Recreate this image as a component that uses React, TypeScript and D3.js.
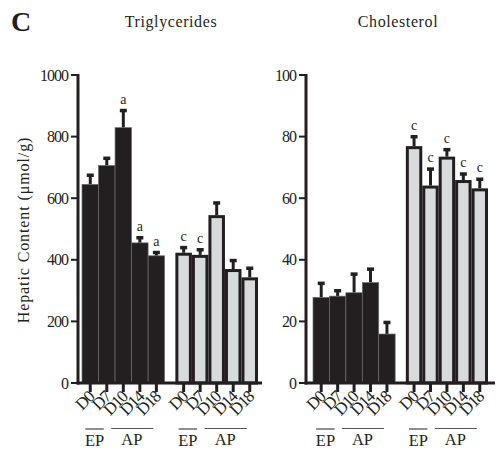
import React from "react";
import * as d3 from "d3";

const days = ["D0", "D7", "D10", "D14", "D18"];
const groups = ["black", "grey"];

// Triglycerides (µmol/g)
const tgBlack = [645, 706, 829, 455, 413];
const tgBlackErr = [32, 26, 58, 19, 13];
const tgGrey = [423, 416, 545, 370, 343];
const tgGreyErr = [19, 19, 42, 30, 32];
const tgBlackSig = ["", "", "a", "a", "a"];
const tgGreySig = ["c", "c", "", "", ""];
const tgTicks = [0, 200, 400, 600, 800, 1000];

// Cholesterol (µmol/g)
const chBlack = [27.8, 28.2, 29.3, 32.6, 15.9];
const chBlackErr = [4.8, 2, 6.3, 4.6, 4];
const chGrey = [76.9, 64.1, 73.5, 65.9, 63.2];
const chGreyErr = [3.3, 5.6, 2.5, 2.2, 3.2];
const chBlackSig = ["", "", "", "", ""];
const chGreySig = ["c", "c", "c", "c", "c"];
const chTicks = [0, 20, 40, 60, 80, 100];

const INK = "#231f20";
const GREY = "#d9dadb";
const FONT = "'Liberation Serif', 'Times New Roman', serif";

type PanelProps = {
  title: string;
  titleX: number;
  axisX: number;
  axisEnd: number;
  barRange: [number, number];
  max: number;
  ticks: number[];
  series: { vals: number[]; errs: number[]; sig: string[] }[];
};

function Panel({ title, titleX, axisX, axisEnd, barRange, max, ticks, series }: PanelProps) {
  const y0 = 383, yTop = 75;
  const y = d3.scaleLinear().domain([0, max]).range([y0, yTop]);
  const gx = d3.scaleBand().domain(groups).range(barRange).paddingInner(0.115);
  const bx = d3.scaleBand().domain(days).range([0, gx.bandwidth()]);
  const bw = bx.bandwidth();

  return (
    <g>
      <text x={titleX} y={27} textAnchor="middle" fontSize={16} fontFamily={FONT} fill={INK} letterSpacing={0.6}>{title}</text>
      {groups.map((gname, gi) => {
        const s = series[gi];
        const ox = gx(gname)!;
        return (
          <g key={gname}>
            {days.map((d, i) => {
              const x = ox + bx(d)!;
              const cx = x + bw / 2;
              const top = y(s.vals[i]);
              const et = y(s.vals[i] + s.errs[i]);
              return (
                <g key={d}>
                  <line x1={cx} x2={cx} y1={top} y2={et} stroke={INK} strokeWidth={3} />
                  <rect x={cx - 3.5} y={et - 1} width={7} height={3.5} fill={INK} />
                  {gi === 0 ? (
                    <rect x={x} y={top} width={bw} height={y0 - top} fill={INK} stroke="#6d6d6d" strokeWidth={0.7} />
                  ) : (
                    <rect x={x + 1.5} y={top + 1.5} width={bw - 3} height={y0 - top - 1.5} fill={GREY} stroke={INK} strokeWidth={3} />
                  )}
                  {s.sig[i] && (
                    <text x={cx} y={et - 6} textAnchor="middle" fontSize={14} fontFamily={FONT} fill={INK}>{s.sig[i]}</text>
                  )}
                  <line x1={cx} x2={cx} y1={y0} y2={y0 + 9} stroke={INK} strokeWidth={3} />
                  <text transform={`translate(${cx + 5},${y0 + 15}) rotate(-45)`} textAnchor="end" fontSize={17} fontFamily={FONT} fill={INK} letterSpacing={-1.2}>{d}</text>
                </g>
              );
            })}
            {(() => {
              const c = (i: number) => ox + bx(days[i])! + bw / 2;
              const ly = 429;
              return (
                <g fontFamily={FONT} fontSize={16.5} fill={INK} textAnchor="middle">
                  <line x1={c(0) - 5} x2={c(1) - 3} y1={ly} y2={ly} stroke={INK} strokeWidth={1} />
                  <line x1={c(2) - 12} x2={c(4) - 3} y1={ly - 0.5} y2={ly - 0.5} stroke="#555" strokeWidth={1} />
                  <text x={(c(0) + c(1)) / 2 - 4} y={446}>EP</text>
                  <text x={(c(2) + c(4)) / 2 - 8} y={445}>AP</text>
                </g>
              );
            })()}
          </g>
        );
      })}
      {ticks.map((t) => (
        <g key={t}>
          <line x1={axisX - 7} x2={axisX} y1={y(t)} y2={y(t)} stroke={INK} strokeWidth={2} />
          <text x={axisX - 10} y={y(t) + 5.5} textAnchor="end" fontSize={16} fontFamily={FONT} fill={INK} letterSpacing={-1}>{t}</text>
        </g>
      ))}
      <line x1={axisX} x2={axisX} y1={y(max) - 1} y2={y0 + 1.5} stroke={INK} strokeWidth={3} />
      <line x1={axisX - 1.5} x2={axisEnd} y1={y0} y2={y0} stroke={INK} strokeWidth={3} />
    </g>
  );
}

export default function App() {
  return (
    <svg width={498} height={455} style={{ position: "absolute", left: 0, top: 0, background: "#fff" }}>
      <text x={11} y={31} fontSize={28} fontWeight="bold" fontFamily={FONT} fill={INK}>C</text>
      <text transform="translate(29,230) rotate(-90)" textAnchor="middle" fontSize={16} fontFamily={FONT} fill={INK} letterSpacing={0.9}>Hepatic Content (μmol/g)</text>
      <Panel
        title="Triglycerides"
        titleX={171}
        axisX={78}
        axisEnd={262}
        barRange={[82, 258]}
        max={1000}
        ticks={tgTicks}
        series={[
          { vals: tgBlack, errs: tgBlackErr, sig: tgBlackSig },
          { vals: tgGrey, errs: tgGreyErr, sig: tgGreySig },
        ]}
      />
      <Panel
        title="Cholesterol"
        titleX={398}
        axisX={306}
        axisEnd={495}
        barRange={[313, 488]}
        max={100}
        ticks={chTicks}
        series={[
          { vals: chBlack, errs: chBlackErr, sig: chBlackSig },
          { vals: chGrey, errs: chGreyErr, sig: chGreySig },
        ]}
      />
    </svg>
  );
}
